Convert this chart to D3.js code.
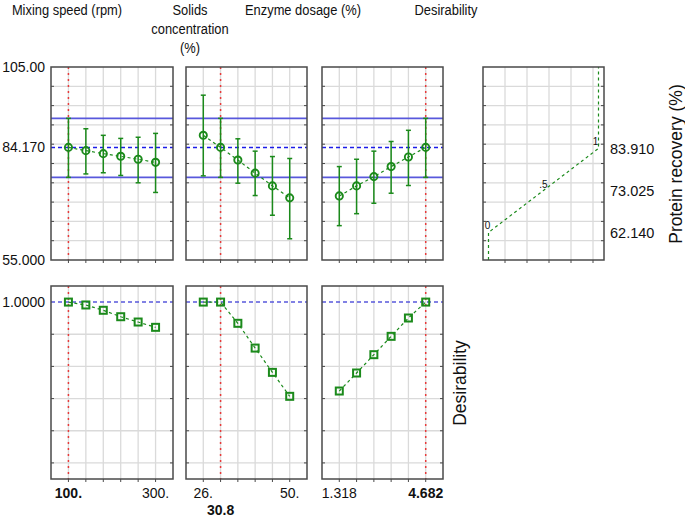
<!DOCTYPE html>
<html><head><meta charset="utf-8">
<script src="https://cdn.jsdelivr.net/npm/d3@7"></script>
<style>
body{margin:0;background:#fff;}
text{font-family:"Liberation Sans",Arial,sans-serif;fill:#111;}
</style></head>
<body><svg id="c" width="685" height="522"></svg>
<script>
// ---------- data ----------
const factorTitles = [["Mixing speed (rpm)"], ["Solids", "concentration", "(%)"], ["Enzyme dosage (%)"]];
const mixingLevels = [100, 140, 180, 220, 260, 300];
const solidsLevels = [26, 30.8, 35.6, 40.4, 45.2, 50];
const enzymeLevels = [1.318, 1.991, 2.664, 3.336, 4.009, 4.682];
const currentValues = [100, 30.8, 4.682];
const currentLabels = ["100.", "30.8", "4.682"];
const minLabels = ["100.", "26.", "1.318"];
const maxLabels = ["300.", "50.", "4.682"];

const mixingRecovery = [84.17, 83.33, 82.55, 81.86, 81.1, 80.3];
const mixingLower = [76.4, 77.3, 77.6, 76.9, 75.0, 72.5];
const mixingUpper = [91.7, 89.0, 87.3, 86.5, 86.8, 87.8];
const solidsRecovery = [87.3, 84.17, 80.9, 77.5, 74.2, 71.1];
const solidsLower = [76.8, 76.4, 74.9, 71.7, 66.6, 60.5];
const solidsUpper = [97.7, 91.7, 86.4, 83.2, 81.8, 81.3];
const enzymeRecovery = [71.6, 74.2, 76.6, 79.2, 81.7, 84.17];
const enzymeLower = [63.9, 67.0, 69.7, 72.3, 74.3, 76.4];
const enzymeUpper = [79.2, 81.1, 83.2, 85.7, 88.6, 91.7];

const mixingDesir = [1.0, 0.982, 0.949, 0.909, 0.876, 0.843];
const solidsDesir = [1.0, 1.0, 0.868, 0.714, 0.563, 0.414];
const enzymeDesir = [0.447, 0.559, 0.673, 0.787, 0.901, 1.0];

const predicted = 84.17;
const ciLow = 76.4, ciHigh = 91.7;
const recoveryTicks = [105, 84.17, 55];
const recoveryTickLabels = ["105.00", "84.170", "55.000"];
const desirFnResponse = [62.14, 73.025, 83.91];
const desirFnValue = [0, 0.5, 1];
const desirFnLabels = ["0", ".5", "1"];
const desirFnTickLabels = ["62.140", "73.025", "83.910"];

// ---------- layout ----------
const svg = d3.select("#c");
const panelsX = [[51, 173], [186, 307], [322, 443]];
const desPanelX = [483, 604];
const topY = [67, 260], botY = [286, 479];
const GREEN = "#1b8a1b", RED = "#e83a3a", BLUE = "#1c1ce8", BLUE2 = "#5858dc", GRID = "#dadada", BORDER = "#4a4a4a";

const yTop = d3.scaleLinear().domain([55, 105]).range([topY[1], topY[0]]);
const yBot = d3.scaleLinear().domain([-0.1, 1.1]).range([botY[1], botY[0]]);

const factors = [
  {levels: mixingLevels, rec: mixingRecovery, lo: mixingLower, hi: mixingUpper, des: mixingDesir},
  {levels: solidsLevels, rec: solidsRecovery, lo: solidsLower, hi: solidsUpper, des: solidsDesir},
  {levels: enzymeLevels, rec: enzymeRecovery, lo: enzymeLower, hi: enzymeUpper, des: enzymeDesir}
];

function frame(g, x0, x1, y0, y1, xs, xGrid, ys, yGrid) {
  g.append("g").selectAll("line").data(xGrid).join("line")
    .attr("x1", d => xs(d)).attr("x2", d => xs(d)).attr("y1", y0).attr("y2", y1)
    .attr("stroke", GRID).attr("stroke-width", 1.3);
  g.append("g").selectAll("line").data(yGrid).join("line")
    .attr("x1", x0).attr("x2", x1).attr("y1", d => ys(d)).attr("y2", d => ys(d))
    .attr("stroke", GRID).attr("stroke-width", 1.3);
}
function border(g, x0, x1, y0, y1, xs, xGrid, ys, yGrid) {
  g.append("g").selectAll("line").data(yGrid).join("line")
    .attr("x1", x0).attr("x2", x0 + 3).attr("y1", d => ys(d)).attr("y2", d => ys(d))
    .attr("stroke", BORDER).attr("stroke-width", 1);
  g.append("g").selectAll("line").data(yGrid).join("line")
    .attr("x1", x1 - 3).attr("x2", x1).attr("y1", d => ys(d)).attr("y2", d => ys(d))
    .attr("stroke", BORDER).attr("stroke-width", 1);
  g.append("g").selectAll("line").data(xGrid).join("line")
    .attr("x1", d => xs(d)).attr("x2", d => xs(d)).attr("y1", y1).attr("y2", y1 + 3)
    .attr("stroke", BORDER).attr("stroke-width", 1);
  g.append("rect").attr("x", x0).attr("y", y0).attr("width", x1 - x0).attr("height", y1 - y0)
    .attr("fill", "none").attr("stroke", BORDER).attr("stroke-width", 1.5);
}

const recGrid = d3.range(60, 101, 5);
const desGrid = [0, 0.2, 0.4, 0.6, 0.8];

factors.forEach((f, i) => {
  const [x0, x1] = panelsX[i];
  const step = f.levels[1] - f.levels[0];
  const xs = d3.scaleLinear().domain([f.levels[0] - step, f.levels[5] + step]).range([x0, x1]);
  const cur = currentValues[i];

  // ---------- top panel ----------
  const gt = svg.append("g");
  frame(gt, x0, x1, topY[0], topY[1], xs, f.levels, yTop, recGrid);
  gt.selectAll(".ci").data([ciLow, ciHigh]).join("line")
    .attr("x1", x0).attr("x2", x1).attr("y1", d => yTop(d)).attr("y2", d => yTop(d))
    .attr("stroke", BLUE2).attr("stroke-width", 1.6);
  gt.append("line").attr("x1", x0).attr("x2", x1).attr("y1", yTop(predicted)).attr("y2", yTop(predicted))
    .attr("stroke", BLUE).attr("stroke-width", 1.5).attr("stroke-dasharray", "4,3");
  gt.append("line").attr("x1", xs(cur)).attr("x2", xs(cur)).attr("y1", topY[0]).attr("y2", topY[1])
    .attr("stroke", RED).attr("stroke-width", 1.5).attr("stroke-dasharray", "2,4");
  const pts = f.levels.map((l, k) => ({x: l, y: f.rec[k], lo: f.lo[k], hi: f.hi[k]}));
  gt.append("path").datum(pts)
    .attr("d", d3.line().x(d => xs(d.x)).y(d => yTop(d.y)))
    .attr("fill", "none").attr("stroke", GREEN).attr("stroke-width", 1.2).attr("stroke-dasharray", "3,3");
  const eb = gt.append("g").attr("stroke", GREEN).attr("stroke-width", 1.5);
  eb.selectAll(".v").data(pts).join("line")
    .attr("x1", d => xs(d.x)).attr("x2", d => xs(d.x)).attr("y1", d => yTop(d.lo)).attr("y2", d => yTop(d.hi));
  eb.selectAll(".t").data(pts).join("line")
    .attr("x1", d => xs(d.x) - 2.5).attr("x2", d => xs(d.x) + 2.5).attr("y1", d => yTop(d.hi)).attr("y2", d => yTop(d.hi));
  eb.selectAll(".b").data(pts).join("line")
    .attr("x1", d => xs(d.x) - 2.5).attr("x2", d => xs(d.x) + 2.5).attr("y1", d => yTop(d.lo)).attr("y2", d => yTop(d.lo));
  gt.selectAll("circle").data(pts).join("circle")
    .attr("cx", d => xs(d.x)).attr("cy", d => yTop(d.y)).attr("r", 3.6)
    .attr("fill", "none").attr("stroke", GREEN).attr("stroke-width", 1.9);
  border(gt, x0, x1, topY[0], topY[1], xs, f.levels, yTop, recGrid);

  // ---------- bottom panel ----------
  const gb = svg.append("g");
  frame(gb, x0, x1, botY[0], botY[1], xs, f.levels, yBot, desGrid);
  gb.append("line").attr("x1", x0).attr("x2", x1).attr("y1", yBot(1)).attr("y2", yBot(1))
    .attr("stroke", BLUE2).attr("stroke-width", 1.5).attr("stroke-dasharray", "4,3");
  gb.append("line").attr("x1", xs(cur)).attr("x2", xs(cur)).attr("y1", botY[0]).attr("y2", botY[1])
    .attr("stroke", RED).attr("stroke-width", 1.5).attr("stroke-dasharray", "2,4");
  const dp = f.levels.map((l, k) => ({x: l, d: f.des[k]}));
  gb.append("path").datum(dp)
    .attr("d", d3.line().x(d => xs(d.x)).y(d => yBot(d.d)))
    .attr("fill", "none").attr("stroke", GREEN).attr("stroke-width", 1.2).attr("stroke-dasharray", "3,3");
  gb.selectAll("rect.m").data(dp).join("rect").attr("class", "m")
    .attr("x", d => xs(d.x) - 3.5).attr("y", d => yBot(d.d) - 3.5).attr("width", 7).attr("height", 7)
    .attr("fill", "none").attr("stroke", GREEN).attr("stroke-width", 2);
  border(gb, x0, x1, botY[0], botY[1], xs, f.levels, yBot, desGrid);

  // ---------- bottom labels ----------
  const lab = [{v: f.levels[0], t: minLabels[i], bold: cur === f.levels[0], y: 498},
               {v: f.levels[5], t: maxLabels[i], bold: cur === f.levels[5], y: 498}];
  if (cur !== f.levels[0] && cur !== f.levels[5]) lab.push({v: cur, t: currentLabels[i], bold: true, y: 515});
  svg.append("g").selectAll("text").data(lab).join("text")
    .attr("x", d => xs(d.v)).attr("y", d => d.y).attr("text-anchor", "middle")
    .attr("font-size", "14px").attr("font-weight", d => d.bold ? "bold" : "normal").text(d => d.t);
});

// ---------- left axes labels ----------
const axL = svg.append("g").attr("transform", "translate(51,0)")
  .call(d3.axisLeft(yTop).tickValues(recoveryTicks).tickFormat((d, k) => recoveryTickLabels[k]).tickSize(0).tickPadding(6));
axL.select(".domain").remove();
axL.selectAll("text").attr("font-size", "14px").attr("font-family", "Liberation Sans, Arial, sans-serif").attr("fill", "#111");
const axLB = svg.append("g").attr("transform", "translate(51,0)")
  .call(d3.axisLeft(yBot).tickValues([1]).tickFormat(() => "1.0000").tickSize(0).tickPadding(6));
axLB.select(".domain").remove();
axLB.selectAll("text").attr("font-size", "14px").attr("font-family", "Liberation Sans, Arial, sans-serif").attr("fill", "#111");

// ---------- desirability function panel ----------
const xd = d3.scaleLinear().domain([-0.05, 1.05]).range(desPanelX);
const dGridX = [0.15, 0.35, 0.55, 0.75, 0.95];
const gd = svg.append("g");
frame(gd, desPanelX[0], desPanelX[1], topY[0], topY[1], xd, dGridX, yTop, recGrid);
const curve = [{d: desirFnValue[0], r: 55}]
  .concat(desirFnResponse.map((r, k) => ({d: desirFnValue[k], r})))
  .concat([{d: desirFnValue[2], r: 105}]);
gd.append("path").datum(curve)
  .attr("d", d3.line().x(d => xd(d.d)).y(d => yTop(d.r)))
  .attr("fill", "none").attr("stroke", GREEN).attr("stroke-width", 1.2).attr("stroke-dasharray", "3,3");
const fnLab = desirFnResponse.map((r, k) => ({r, d: desirFnValue[k], t: desirFnLabels[k]}));
gd.selectAll("text").data(fnLab).join("text")
  .attr("x", (d, k) => xd(d.d) + (k === 0 ? -1 : k === 2 ? -3 : 0))
  .attr("y", (d, k) => yTop(d.r) + (k === 0 ? -3 : k === 1 ? -2 : -3))
  .attr("text-anchor", "middle")
  .attr("font-size", "10px").attr("fill", "#333").text(d => d.t);
border(gd, desPanelX[0], desPanelX[1], topY[0], topY[1], xd, dGridX, yTop, recGrid);
const axR = svg.append("g").attr("transform", `translate(${desPanelX[1]},0)`)
  .call(d3.axisRight(yTop).tickValues(desirFnResponse).tickFormat((d, k) => desirFnTickLabels[k]).tickSize(0).tickPadding(6));
axR.select(".domain").remove();
axR.selectAll("text").attr("font-size", "14.5px").attr("font-family", "Liberation Sans, Arial, sans-serif").attr("fill", "#111");

// ---------- titles (slightly condensed, as in the reference) ----------
const titleX = [67, 190, 303];
const SX = 0.86;
function title(x, y, t) {
  svg.append("text").attr("transform", `translate(${x},${y}) scale(${SX},1)`)
    .attr("text-anchor", "middle").attr("font-size", "15px").text(t);
}
factorTitles.forEach((lines, i) => lines.forEach((t, k) => title(titleX[i], 15 + k * 19, t)));
title(446, 15, "Desirability");

svg.append("text").attr("transform", "translate(682,164) rotate(-90)").attr("text-anchor", "middle")
  .attr("font-size", "17.5px").text("Protein recovery (%)");
svg.append("text").attr("transform", "translate(466,383) rotate(-90)").attr("text-anchor", "middle")
  .attr("font-size", "17.5px").text("Desirability");
</script></body></html>
